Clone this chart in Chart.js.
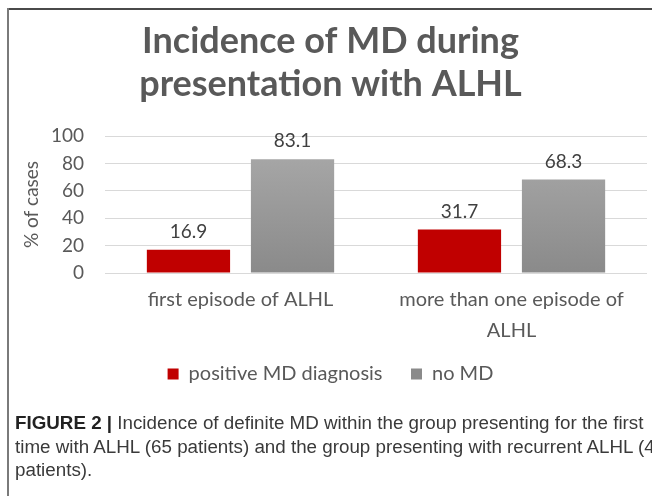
<!DOCTYPE html>
<html>
<head>
<meta charset="utf-8">
<script src="https://cdn.jsdelivr.net/npm/chart.js@4.4.1/dist/chart.umd.min.js"></script>
<style>
  html, body { margin: 0; padding: 0; background: #fff; }
  #wrap { position: relative; width: 652px; height: 496px; overflow: hidden; }
  #frameTop { position: absolute; left: 7px; top: 8px; right: 0; height: 2px; background: #4a4a4a; }
  #frameLeft { position: absolute; left: 7px; top: 8px; bottom: 0; width: 2px; background: #7a7a7a; }
  canvas { position: absolute; left: 0; top: 0; }
  #caption { position: absolute; left: 15px; top: 411px; width: 700px; font-family: "Liberation Sans", Arial, sans-serif; font-size: 18.8px; line-height: 23.5px; color: #3a3a3a; white-space: nowrap; }
  #caption b { color: #222; }
</style>
</head>
<body>
<div id="wrap">
  <canvas id="c" width="652" height="496"></canvas>
  <div id="frameTop"></div>
  <div id="frameLeft"></div>
  <div id="caption"><b>FIGURE 2 |</b> Incidence of definite MD within the group presenting for the first<br>time with ALHL (65 patients) and the group presenting with recurrent ALHL (41<br>patients).</div>
</div>
<script>
const titleLines = ["Incidence of MD during", "presentation with ALHL"];
const categories = [["first episode of ALHL"], ["more than one episode of", "ALHL"]];
const seriesNames = ["positive MD diagnosis", "no MD"];
const positiveMD = [16.9, 31.7];
const noMD = [83.1, 68.3];
const yTicks = [0, 20, 40, 60, 80, 100];
const yTitle = "% of cases";

const FONT = "Lato, 'Open Sans', sans-serif";

function grayFill(ctx) {
  const chart = ctx.chart;
  const area = chart.chartArea;
  if (!area) return "#9b9b9b";
  const g = chart.ctx.createLinearGradient(0, area.top, 0, area.bottom);
  g.addColorStop(0, "#ababab");
  g.addColorStop(1, "#8a8a8a");
  return g;
}

const valueLabels = {
  id: "valueLabels",
  afterDatasetsDraw(chart) {
    const c = chart.ctx;
    c.save();
    c.font = "19px " + FONT;
    c.fillStyle = "#404040";
    c.textAlign = "center";
    c.textBaseline = "middle";
    chart.data.datasets.forEach((ds, i) => {
      chart.getDatasetMeta(i).data.forEach((bar, j) => {
        c.fillText(ds.data[j].toFixed(1), bar.x, bar.y - 18);
      });
    });
    c.restore();
  }
};

new Chart(document.getElementById("c"), {
  type: "bar",
  data: {
    labels: categories,
    datasets: [
      { label: seriesNames[0], data: positiveMD, backgroundColor: "#c00000", borderWidth: 0 },
      { label: seriesNames[1], data: noMD, backgroundColor: grayFill, borderWidth: 0 }
    ]
  },
  options: {
    responsive: false,
    animation: false,
    devicePixelRatio: 1,
    layout: { padding: { left: 14, right: 5, top: 0, bottom: 102 } },
    datasets: { bar: { categoryPercentage: 0.768, barPercentage: 0.8 } },
    scales: {
      x: {
        grid: { display: false, drawTicks: false },
        border: { display: false },
        ticks: { color: "#595959", font: { family: FONT, size: 20, lineHeight: "31px" }, padding: 11, maxRotation: 0, autoSkip: false },
        afterFit(s) { s.height = 62.5; s._computeLabelArea = () => undefined; }
      },
      y: {
        min: 0, max: 100,
        afterBuildTicks(s) { s.ticks = yTicks.map(v => ({ value: v })); },
        grid: { color: "#d9d9d9", lineWidth: 1, drawTicks: false },
        border: { display: false },
        ticks: { color: "#595959", font: { family: FONT, size: 19 }, padding: 21 },
        title: { display: true, text: yTitle, color: "#595959", font: { family: FONT, size: 19 }, padding: { top: 6, bottom: 0 } },
        afterFit(s) { s.width = 91; }
      }
    },
    plugins: {
      title: {
        display: true,
        text: titleLines,
        color: "#595959",
        font: { family: FONT, size: 36, weight: "bold", lineHeight: "43px" },
        padding: { top: 19.5, bottom: 30.5 }
      },
      legend: {
        position: "bottom",
        labels: {
          color: "#595959",
          font: { family: FONT, size: 20 },
          boxWidth: 11, boxHeight: 11,
          padding: 28.5
        }
      },
      tooltip: { enabled: false }
    }
  },
  plugins: [valueLabels]
});
</script>
</body>
</html>
